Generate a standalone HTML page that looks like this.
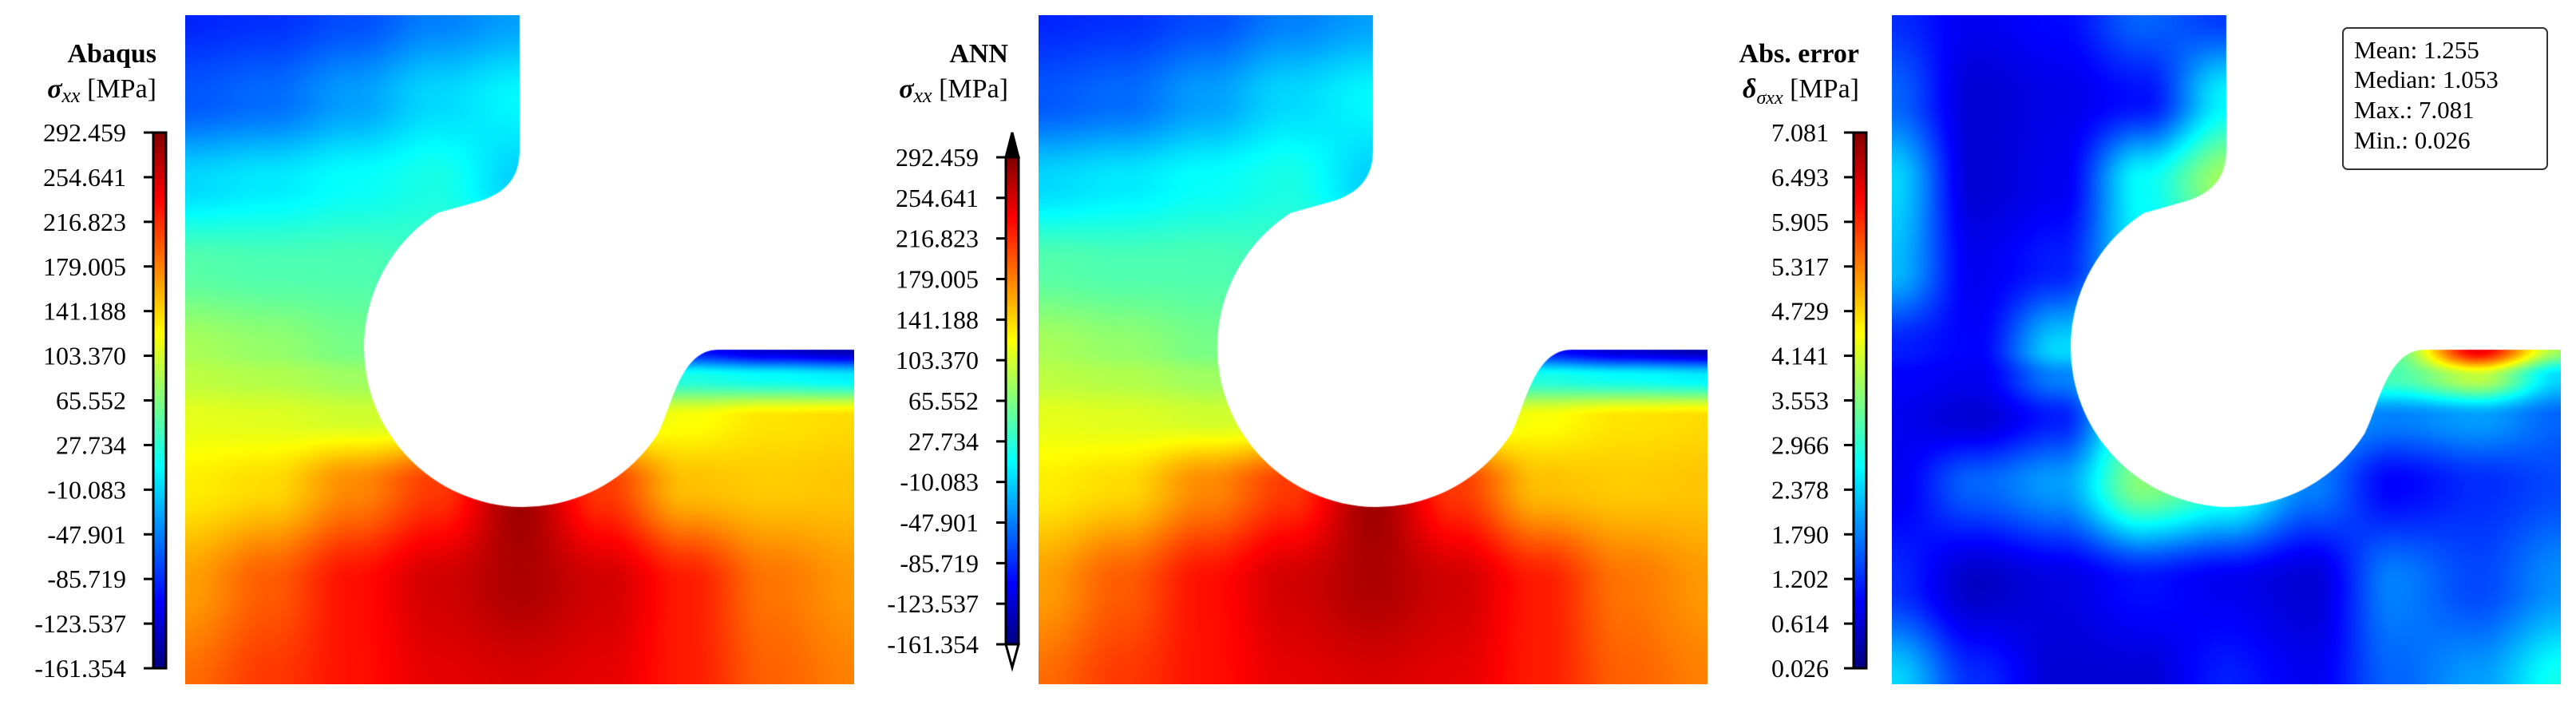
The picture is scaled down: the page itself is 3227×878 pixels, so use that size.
<!DOCTYPE html>
<html><head><meta charset="utf-8">
<style>
html,body{margin:0;padding:0;background:#fff;}
#root{position:relative;width:3227px;height:878px;overflow:hidden;background:#fff;}
canvas{position:absolute;}
svg{position:absolute;left:0;top:0;}
text{font-family:"Liberation Serif",serif;fill:#000;}
</style></head>
<body>
<div id="root">
<canvas id="c1" width="838" height="838" style="left:232px;top:19px"></canvas>
<canvas id="c2" width="838" height="838" style="left:1301px;top:19px"></canvas>
<canvas id="c3" width="838" height="838" style="left:2370px;top:19px"></canvas>
<svg id="ov" width="3227" height="878">
<defs>
<linearGradient id="jet" x1="0" y1="1" x2="0" y2="0">
<stop offset="0" stop-color="#000080"/><stop offset="0.125" stop-color="#0000ff"/>
<stop offset="0.375" stop-color="#00ffff"/><stop offset="0.625" stop-color="#ffff00"/>
<stop offset="0.875" stop-color="#ff0000"/><stop offset="1" stop-color="#800000"/>
</linearGradient>
</defs>
<g>
<text x="196" y="78" text-anchor="end" font-size="34" font-weight="bold">Abaqus</text>
<text x="196" y="122" text-anchor="end" font-size="34"><tspan font-weight="bold" font-style="italic">σ</tspan><tspan font-style="italic" font-size="26" dy="6">xx</tspan><tspan dy="-6"> [MPa]</tspan></text>
</g>
<g>
<text x="1263" y="78" text-anchor="end" font-size="34" font-weight="bold">ANN</text>
<text x="1263" y="122" text-anchor="end" font-size="34"><tspan font-weight="bold" font-style="italic">σ</tspan><tspan font-style="italic" font-size="26" dy="6">xx</tspan><tspan dy="-6"> [MPa]</tspan></text>
</g>
<g>
<text x="2329" y="78" text-anchor="end" font-size="34" font-weight="bold">Abs. error</text>
<text x="2329" y="122" text-anchor="end" font-size="34"><tspan font-weight="bold" font-style="italic">δ</tspan><tspan font-style="italic" font-size="24" dy="8">σxx</tspan><tspan dy="-8"> [MPa]</tspan></text>
</g>
<g>
<rect x="2935" y="35" width="256" height="177" rx="6" fill="#fff" stroke="#333" stroke-width="2"/>
<text x="2949" y="73" font-size="31">Mean: 1.255</text>
<text x="2949" y="110" font-size="31">Median: 1.053</text>
<text x="2949" y="148" font-size="31">Max.: 7.081</text>
<text x="2949" y="186" font-size="31">Min.: 0.026</text>
</g>
<g id="cbars"></g>
</svg>
</div>
<script>
// grid node positions in mm (domain 10 x 10 mm)
const gridX = [0,1.25,2.5,3.75,5,6.25,7.5,8.75,10];
const gridY = [0,1.25,2.5,3.75,5,5.4,6,7,8.5,10];
// Abaqus sigma_xx [MPa] at grid nodes
const abaqusStress = [
 [-89,-84,-71,-48,-34,-34,-34,-34,-34],
 [-66,-57,-34,-8,7,7,7,7,7],
 [-8,0,11,20,-12,-12,-12,-12,-12],
 [47,43,43,38,38,38,38,38,38],
 [84,75,62,56,20,-25,-98,-125,-139],
 [93,88,79,72,43,20,20,11,2],
 [111,108,102,100,100,100,120,134,138],
 [129,138,174,210,279,210,150,145,148],
 [165,195,230,256,272,256,224,184,168],
 [188,211,229,247,252,247,224,193,179]
];
// ANN prediction (visually identical to Abaqus)
const annStress = [
 [-89,-84,-71,-48,-34,-34,-34,-34,-34],
 [-66,-57,-34,-8,7,7,7,7,7],
 [-8,0,11,20,-12,-12,-12,-12,-12],
 [47,43,43,38,38,38,38,38,38],
 [84,75,62,56,20,-25,-98,-125,-139],
 [93,88,79,72,43,20,20,11,2],
 [111,108,102,100,100,100,120,134,138],
 [129,138,174,210,279,210,150,145,148],
 [165,195,230,256,272,256,224,184,168],
 [188,211,229,247,252,247,224,193,179]
];
// absolute error [MPa]
const absError = [
 [1.20,0.80,0.95,1.60,1.30,1.30,1.30,1.30,1.30],
 [1.60,0.60,0.75,1.00,2.60,2.60,2.60,2.60,2.60],
 [2.40,0.60,0.80,2.70,3.80,3.80,3.80,3.80,3.80],
 [2.20,0.80,1.10,2.60,2.60,2.60,2.60,2.60,2.60],
 [1.10,0.90,2.40,3.20,2.85,2.85,3.40,6.30,3.80],
 [0.90,0.80,1.80,2.85,2.50,2.50,3.20,4.00,2.40],
 [0.80,0.60,1.10,3.40,2.00,2.00,1.80,2.00,1.60],
 [0.80,1.60,2.00,3.60,3.00,1.80,0.90,1.20,1.40],
 [1.20,0.50,0.70,1.00,0.80,0.60,1.80,1.40,1.90],
 [2.40,1.20,0.60,0.60,1.10,0.80,1.60,2.00,2.80]
];
const stressTicks = ["292.459","254.641","216.823","179.005","141.188","103.370","65.552","27.734","-10.083","-47.901","-85.719","-123.537","-161.354"];
const errorTicks = ["7.081","6.493","5.905","5.317","4.729","4.141","3.553","2.966","2.378","1.790","1.202","0.614","0.026"];
const stressRange = [-161.354, 292.459];
const errorRange = [0.026, 7.081];

function jet(t){
  t=Math.max(0,Math.min(1,t));
  const f=(a)=>Math.max(0,Math.min(1,1.5-Math.abs(4*t-a)));
  return [255*f(3),255*f(2),255*f(1)];
}
function findCell(arr,v){
  for(let i=0;i<arr.length-2;i++){ if(v<arr[i+1]) return i; }
  return arr.length-2;
}
function sampler(grid){
  return function(mx,my){
    const i=findCell(gridX,mx), j=findCell(gridY,my);
    let u=(mx-gridX[i])/(gridX[i+1]-gridX[i]); let v=(my-gridY[j])/(gridY[j+1]-gridY[j]);
    u=u*u*(3-2*u); v=v*v*(3-2*v);
    const a=grid[j][i],b=grid[j][i+1],c=grid[j+1][i],d=grid[j+1][i+1];
    return (a*(1-u)+b*u)*(1-v)+(c*(1-u)+d*u)*v;
  };
}
function holePath(){
  const p=new Path2D();
  const cx=424, cy=416, r=200;
  const a1=Math.atan2(251-cy,318-cx), a2=Math.atan2(521-cy,588-cx);
  p.moveTo(419,0);
  p.lineTo(419,169);
  p.bezierCurveTo(419,205,400,222,372,232);
  p.lineTo(cx+r*Math.cos(a1),cy+r*Math.sin(a1));
  p.arc(cx,cy,r,a1,a2,true);
  p.bezierCurveTo(610,490,620,419,668,419);
  p.lineTo(840,419);
  p.lineTo(840,-2);
  p.closePath();
  return p;
}
function drawField(id,grid,range){
  const cv=document.getElementById(id), ctx=cv.getContext('2d');
  const W=cv.width,H=cv.height, img=ctx.createImageData(W,H), s=sampler(grid);
  const sc=10/838;
  for(let y=0;y<H;y++){for(let x=0;x<W;x++){
    const val=s(x*sc,y*sc), c=jet((val-range[0])/(range[1]-range[0])), k=(y*W+x)*4;
    img.data[k]=c[0];img.data[k+1]=c[1];img.data[k+2]=c[2];img.data[k+3]=255;
  }}
  ctx.putImageData(img,0,0);
  ctx.fillStyle='#fff'; ctx.fill(holePath());
}
drawField('c1',abaqusStress,stressRange);
drawField('c2',annStress,stressRange);
drawField('c3',absError,errorRange);

const NS="http://www.w3.org/2000/svg";
const cb=document.getElementById('cbars');
function mk(tag,attrs,parent){const e=document.createElementNS(NS,tag);for(const k in attrs)e.setAttribute(k,attrs[k]);parent.appendChild(e);return e;}
function colorbar(name,x0,top,bot,ticks,labelX,arrows){
  const g=mk('g',{},cb);
  
  
  const w=16;
  if(arrows){
    const up=mk('polygon',{points:`${x0},${top} ${x0+w},${top} ${x0+w/2},${top-31}`,fill:'#000',stroke:'#000','stroke-width':3},g);
    
    
    const dn=mk('polygon',{points:`${x0},${bot} ${x0+w},${bot} ${x0+w/2},${bot+29}`,fill:'#fff',stroke:'#000','stroke-width':3},g);
    
    
  }
  const r=mk('rect',{x:x0,y:top,width:w,height:bot-top,fill:'url(#jet)',stroke:'#000','stroke-width':3},g);
  
  
  const n=ticks.length;
  ticks.forEach((lab,i)=>{
    const y=top+(bot-top)*i/(n-1);
    const t=mk('line',{x1:x0-12,x2:x0,y1:y,y2:y,stroke:'#000','stroke-width':3},g);
    
    
    const tx=mk('text',{x:labelX,y:y+11,'text-anchor':'end','font-size':32},g);
    tx.textContent=lab;
    
    
  });
}
colorbar('abaqus-colorbar',192,166,837,stressTicks,158,false);
colorbar('ann-colorbar',1260,197,807,stressTicks,1226,true);
colorbar('error-colorbar',2322,166,837,errorTicks,2291,false);
</script>
</body></html>
